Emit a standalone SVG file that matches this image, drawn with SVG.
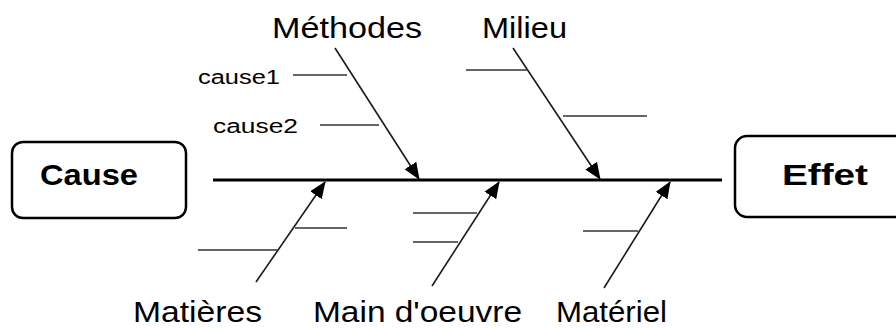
<svg xmlns="http://www.w3.org/2000/svg" width="896" height="329" viewBox="0 0 896 329">
<defs>
<style>
.lbl{font-family:"Liberation Sans",Arial,sans-serif;font-size:29px;fill:#000}
.small{font-family:"Liberation Sans",Arial,sans-serif;font-size:20px;fill:#000}
.bold{font-family:"Liberation Sans",Arial,sans-serif;font-size:30px;font-weight:bold;fill:#000}
.box{fill:#fff;stroke:#000;stroke-width:2.5}
.bone{stroke:#1a1a1a;stroke-width:1.6;fill:none}
.sub{stroke:#333;stroke-width:1.6;fill:none}
.spine{stroke:#000;stroke-width:3;fill:none}
</style>
<marker id="ah" markerUnits="userSpaceOnUse" markerWidth="18" markerHeight="16" viewBox="0 0 18 16" refX="16" refY="8" orient="auto">
<path d="M0,1 L17,8 L0,15 Z" fill="#000"/>
</marker>
</defs>
<g id="cause">
<rect class="box" x="12" y="142" width="174" height="76" rx="11"/>
<text class="bold" x="40" y="185" textLength="98" lengthAdjust="spacingAndGlyphs">Cause</text>
</g>
<g id="effet">
<rect class="box" x="735" y="136" width="180" height="81" rx="12"/>
<text class="bold" x="782" y="185" textLength="86" lengthAdjust="spacingAndGlyphs">Effet</text>
</g>
<g id="connectors">
<line class="spine" x1="213" y1="180" x2="722" y2="180"/>
<line class="bone" x1="335" y1="48" x2="419" y2="179" marker-end="url(#ah)"/>
<line class="bone" x1="513" y1="48" x2="600" y2="179" marker-end="url(#ah)"/>
<line class="bone" x1="256" y1="282" x2="325" y2="182" marker-end="url(#ah)"/>
<line class="bone" x1="432" y1="286" x2="499" y2="182" marker-end="url(#ah)"/>
<line class="bone" x1="604" y1="288" x2="670" y2="182" marker-end="url(#ah)"/>
<line class="sub" x1="293" y1="75" x2="347" y2="75"/>
<line class="sub" x1="320" y1="125" x2="379" y2="125"/>
<line class="sub" x1="466" y1="70" x2="528" y2="70"/>
<line class="sub" x1="563" y1="116" x2="647" y2="116"/>
<line class="sub" x1="198" y1="250" x2="278" y2="250"/>
<line class="sub" x1="295" y1="228" x2="347" y2="228"/>
<line class="sub" x1="413" y1="213" x2="477" y2="213"/>
<line class="sub" x1="413" y1="242" x2="458" y2="242"/>
<line class="sub" x1="583" y1="231" x2="638" y2="231"/>
</g>
<g id="methodes">
<text class="lbl" x="272" y="38" textLength="150" lengthAdjust="spacingAndGlyphs">Méthodes</text>
<text class="small" x="198" y="84" textLength="82" lengthAdjust="spacingAndGlyphs">cause1</text>
<text class="small" x="213" y="133" textLength="85" lengthAdjust="spacingAndGlyphs">cause2</text>
</g>
<g id="milieu">
<text class="lbl" x="482" y="38" textLength="85" lengthAdjust="spacingAndGlyphs">Milieu</text>
</g>
<g id="matieres">
<text class="lbl" x="133" y="322" textLength="129" lengthAdjust="spacingAndGlyphs">Matières</text>
</g>
<g id="main-oeuvre">
<text class="lbl" x="313" y="322" textLength="209" lengthAdjust="spacingAndGlyphs">Main d'oeuvre</text>
</g>
<g id="materiel">
<text class="lbl" x="556" y="322" textLength="111" lengthAdjust="spacingAndGlyphs">Matériel</text>
</g>
</svg>
